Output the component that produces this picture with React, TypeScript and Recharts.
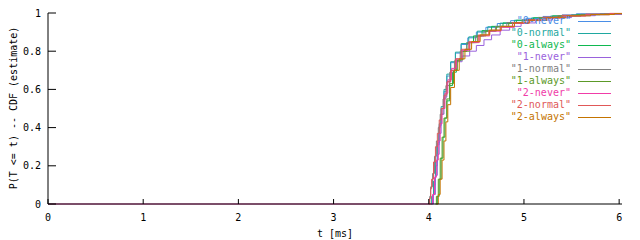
import { LineChart, Line, XAxis, YAxis, Label } from "recharts";

// empirical CDF steps: [t in ms, P(T <= t)]
const never0: [number, number][] = [
  [4.03, 0], [4.04, 0.04], [4.05, 0.1], [4.07, 0.2], [4.09, 0.31], [4.11, 0.41], [4.13, 0.5],
  [4.16, 0.59], [4.19, 0.67], [4.23, 0.74], [4.28, 0.79], [4.34, 0.835], [4.41, 0.87],
  [4.5, 0.9], [4.6, 0.925], [4.72, 0.945], [4.86, 0.96], [5.02, 0.972], [5.2, 0.982],
  [5.4, 0.99], [5.55, 0.996], [6.03, 1],
];
const normal0: [number, number][] = [
  [4.02, 0], [4.03, 0.04], [4.05, 0.12], [4.07, 0.22], [4.09, 0.32], [4.11, 0.42], [4.13, 0.51],
  [4.16, 0.6], [4.19, 0.68], [4.23, 0.745], [4.28, 0.795], [4.34, 0.84], [4.42, 0.875],
  [4.51, 0.905], [4.62, 0.928], [4.75, 0.947], [4.9, 0.962], [5.08, 0.974], [5.28, 0.984],
  [5.5, 0.991], [5.8, 0.996], [6.03, 0.998],
];
const always0: [number, number][] = [
  [4.08, 0], [4.09, 0.04], [4.11, 0.13], [4.13, 0.24], [4.15, 0.35], [4.17, 0.45], [4.19, 0.54],
  [4.22, 0.62], [4.25, 0.69], [4.29, 0.75], [4.34, 0.8], [4.4, 0.845], [4.47, 0.88],
  [4.56, 0.908], [4.66, 0.93], [4.78, 0.948], [4.92, 0.962], [5.1, 0.975], [5.3, 0.985],
  [5.55, 0.992], [5.85, 0.997], [6.03, 0.999],
];
const never1: [number, number][] = [
  [4.04, 0], [4.05, 0.05], [4.07, 0.15], [4.09, 0.26], [4.11, 0.37], [4.13, 0.47], [4.16, 0.56],
  [4.19, 0.64], [4.23, 0.7], [4.28, 0.745], [4.35, 0.775], [4.43, 0.8], [4.5, 0.83],
  [4.58, 0.86], [4.66, 0.885], [4.75, 0.91], [4.85, 0.93], [4.97, 0.948], [5.12, 0.963],
  [5.3, 0.976], [5.5, 0.986], [5.75, 0.993], [6.03, 0.997],
];
const normal1: [number, number][] = [
  [4.0, 0], [4.01, 0.04], [4.02, 0.09], [4.04, 0.16], [4.06, 0.25], [4.08, 0.33], [4.1, 0.4],
  [4.12, 0.47], [4.15, 0.55], [4.18, 0.62], [4.22, 0.69], [4.27, 0.75], [4.33, 0.8],
  [4.4, 0.845], [4.49, 0.88], [4.58, 0.905], [4.7, 0.93], [4.82, 0.95], [4.98, 0.965],
  [5.15, 0.977], [5.35, 0.986], [5.6, 0.993], [5.85, 0.997], [6.03, 0.999],
];
const always1: [number, number][] = [
  [4.07, 0], [4.08, 0.04], [4.1, 0.13], [4.12, 0.24], [4.14, 0.35], [4.16, 0.45], [4.19, 0.55],
  [4.22, 0.63], [4.26, 0.7], [4.3, 0.755], [4.36, 0.8], [4.43, 0.845], [4.51, 0.88],
  [4.6, 0.905], [4.71, 0.927], [4.84, 0.946], [4.99, 0.961], [5.16, 0.974], [5.36, 0.984],
  [5.6, 0.991], [5.9, 0.996], [6.03, 0.998],
];
const never2: [number, number][] = [
  [0, 0], [4.03, 0], [4.04, 0.05], [4.06, 0.14], [4.08, 0.23], [4.1, 0.33], [4.12, 0.42],
  [4.14, 0.5], [4.17, 0.58], [4.2, 0.65], [4.24, 0.71], [4.29, 0.76], [4.35, 0.805],
  [4.43, 0.845], [4.53, 0.88], [4.64, 0.905], [4.76, 0.925], [4.9, 0.945], [5.05, 0.96],
  [5.22, 0.973], [5.42, 0.984], [5.65, 0.991], [5.9, 0.996], [6.03, 0.998],
];
const normal2: [number, number][] = [
  [4.0, 0], [4.01, 0.03], [4.02, 0.08], [4.03, 0.13], [4.05, 0.22], [4.07, 0.3], [4.09, 0.37],
  [4.11, 0.44], [4.13, 0.5], [4.16, 0.57], [4.19, 0.64], [4.23, 0.7], [4.28, 0.76],
  [4.34, 0.81], [4.42, 0.85], [4.52, 0.885], [4.63, 0.91], [4.75, 0.93], [4.88, 0.95],
  [5.02, 0.965], [5.2, 0.978], [5.4, 0.988], [5.65, 0.994], [5.9, 0.998], [6.03, 1],
];
const always2: [number, number][] = [
  [4.08, 0], [4.1, 0.05], [4.12, 0.13], [4.14, 0.23], [4.16, 0.33], [4.18, 0.43], [4.2, 0.52],
  [4.23, 0.61], [4.27, 0.7], [4.32, 0.76], [4.38, 0.81], [4.45, 0.85], [4.54, 0.885],
  [4.64, 0.91], [4.76, 0.93], [4.9, 0.948], [5.06, 0.962], [5.24, 0.975], [5.45, 0.985],
  [5.7, 0.992], [5.95, 0.997], [6.03, 0.999],
];

const seriesNames = [
  "0-never", "0-normal", "0-always",
  "1-never", "1-normal", "1-always",
  "2-never", "2-normal", "2-always",
];
const seriesData = [never0, normal0, always0, never1, normal1, always1, never2, normal2, always2];
const colors = [
  "#4a8ee6", "#1fa8a0", "#10b850",
  "#9a62dc", "#808080", "#5c9a28",
  "#f03ca8", "#e05858", "#c47400",
];

const xTicks = [0, 1, 2, 3, 4, 5, 6];
const yTicks = [0, 0.2, 0.4, 0.6, 0.8, 1];

const mono = "'DejaVu Sans Mono', monospace";
const tickStyle = { fontFamily: mono, fontSize: 10, fill: "#000" };

export default function App() {
  const series = seriesNames.map((name, i) => ({
    name,
    color: colors[i],
    data: seriesData[i].map(([t, p]) => ({ t, p })),
  }));

  return (
    <div style={{ position: "absolute", left: 0, top: 0, width: 640, height: 240, background: "#fff" }}>
      <LineChart width={640} height={240} margin={{ top: 13, right: 18, left: 0, bottom: 0 }}>
        <XAxis
          dataKey="t"
          type="number"
          domain={[0, 6.03]}
          ticks={xTicks}
          allowDataOverflow
          height={36}
          tickSize={-5}
          tickMargin={15}
          tick={tickStyle}
          stroke="#000"
          tickLine={{ stroke: "#000" }}
        >
          <Label
            content={() => (
              <text x={335} y={237} textAnchor="middle" fontFamily={mono} fontSize={10} fill="#000">
                t [ms]
              </text>
            )}
          />
        </XAxis>
        <XAxis
          xAxisId="top"
          orientation="top"
          type="number"
          domain={[0, 6.03]}
          ticks={xTicks}
          allowDataOverflow
          height={0}
          tickSize={-5}
          tick={false}
          stroke="#000"
        />
        <YAxis
          type="number"
          domain={[0, 1]}
          ticks={yTicks}
          width={48}
          tickSize={-8}
          tickMargin={15}
          tick={tickStyle}
          tickFormatter={(v: number) => String(v)}
          stroke="#000"
        >
          <Label
            content={() => (
              <text
                x={13}
                y={108}
                transform="rotate(-90 13 108)"
                textAnchor="middle"
                dominantBaseline="central"
                fontFamily={mono}
                fontSize={10}
                fill="#000"
              >
                P(T &lt;= t) -- CDF (estimate)
              </text>
            )}
          />
        </YAxis>
        <YAxis
          yAxisId="right"
          orientation="right"
          type="number"
          domain={[0, 1]}
          ticks={yTicks}
          width={0}
          tickSize={-8}
          tick={false}
          stroke="#000"
        />
        {series.map((s) => (
          <Line
            key={s.name}
            data={s.data}
            dataKey="p"
            name={s.name}
            type="stepAfter"
            stroke={s.color}
            strokeWidth={1}
            dot={false}
            activeDot={false}
            isAnimationActive={false}
          />
        ))}
      </LineChart>
      <div style={{ position: "absolute", left: 400, top: 15, width: 211 }}>
        {series.map((s) => (
          <div
            key={s.name}
            style={{ display: "flex", justifyContent: "flex-end", alignItems: "center", height: 12 }}
          >
            <span style={{ fontFamily: mono, fontSize: 10, color: s.color, lineHeight: "12px", whiteSpace: "pre" }}>
              "{s.name}"
            </span>
            <div style={{ width: 33, height: 1, background: s.color, marginLeft: 7 }} />
          </div>
        ))}
      </div>
    </div>
  );
}
